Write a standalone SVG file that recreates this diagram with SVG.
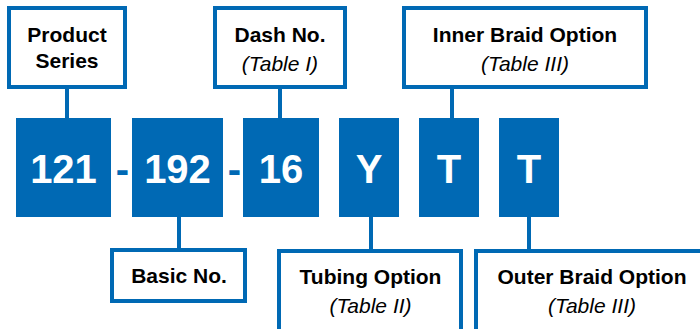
<svg xmlns="http://www.w3.org/2000/svg" width="700" height="329" viewBox="0 0 700 329">
<style>
.frame{fill:#ffffff;stroke:#0069b4;stroke-width:4}
.code{fill:#0069b4}
.codetxt{font-family:"Liberation Sans",Arial,sans-serif;font-weight:bold;font-size:40px;fill:#ffffff;text-anchor:middle}
.dash{font-family:"Liberation Sans",Arial,sans-serif;font-weight:bold;font-size:40px;fill:#0069b4;text-anchor:middle}
.lbl{font-family:"Liberation Sans",Arial,sans-serif;font-weight:bold;font-size:21px;fill:#000000;text-anchor:middle}
.sub{font-family:"Liberation Sans",Arial,sans-serif;font-style:italic;font-size:21px;fill:#000000;text-anchor:middle}
.conn{stroke:#0069b4;stroke-width:4;fill:none}
</style>
<rect width="700" height="329" fill="#ffffff"/>
<g id="connectors">
<line class="conn" x1="67" y1="88" x2="67" y2="119"/>
<line class="conn" x1="280" y1="88" x2="280" y2="119"/>
<line class="conn" x1="452" y1="88" x2="452" y2="119"/>
<line class="conn" x1="179" y1="216" x2="179" y2="250"/>
<line class="conn" x1="371" y1="216" x2="371" y2="250"/>
<line class="conn" x1="529" y1="216" x2="529" y2="250"/>
</g>
<g id="product-series">
<rect class="frame" x="9" y="8" width="116" height="79"/>
<text class="lbl" x="67" y="42">Product</text>
<text class="lbl" x="67" y="68">Series</text>
</g>
<g id="dash-no">
<rect class="frame" x="215" y="8" width="130" height="79"/>
<text class="lbl" x="280" y="42">Dash No.</text>
<text class="sub" x="280" y="71">(Table I)</text>
</g>
<g id="inner-braid">
<rect class="frame" x="404" y="8" width="242" height="79"/>
<text class="lbl" x="525" y="42">Inner Braid Option</text>
<text class="sub" x="525" y="71">(Table III)</text>
</g>
<g id="code-121">
<rect class="code" x="16" y="118" width="95" height="99"/>
<text class="codetxt" x="63.5" y="183">121</text>
</g>
<g id="sep-1"><text class="dash" x="122.5" y="183">-</text></g>
<g id="code-192">
<rect class="code" x="132" y="118" width="91" height="99"/>
<text class="codetxt" x="177.5" y="183">192</text>
</g>
<g id="sep-2"><text class="dash" x="234.5" y="183">-</text></g>
<g id="code-16">
<rect class="code" x="243" y="118" width="76" height="99"/>
<text class="codetxt" x="281" y="183">16</text>
</g>
<g id="code-y">
<rect class="code" x="339" y="118" width="60" height="99"/>
<text class="codetxt" x="369" y="183">Y</text>
</g>
<g id="code-t1">
<rect class="code" x="419" y="118" width="60" height="99"/>
<text class="codetxt" x="449" y="183">T</text>
</g>
<g id="code-t2">
<rect class="code" x="499" y="118" width="60" height="99"/>
<text class="codetxt" x="529" y="183">T</text>
</g>
<g id="basic-no">
<rect class="frame" x="112" y="250" width="133" height="51"/>
<text class="lbl" x="179" y="283">Basic No.</text>
</g>
<g id="tubing-option">
<rect class="frame" x="279" y="251" width="182" height="100"/>
<text class="lbl" x="370.5" y="284">Tubing Option</text>
<text class="sub" x="370.5" y="313">(Table II)</text>
</g>
<g id="outer-braid">
<rect class="frame" x="476" y="251" width="300" height="100"/>
<text class="lbl" x="592" y="284">Outer Braid Option</text>
<text class="sub" x="592" y="313">(Table III)</text>
</g>
</svg>
